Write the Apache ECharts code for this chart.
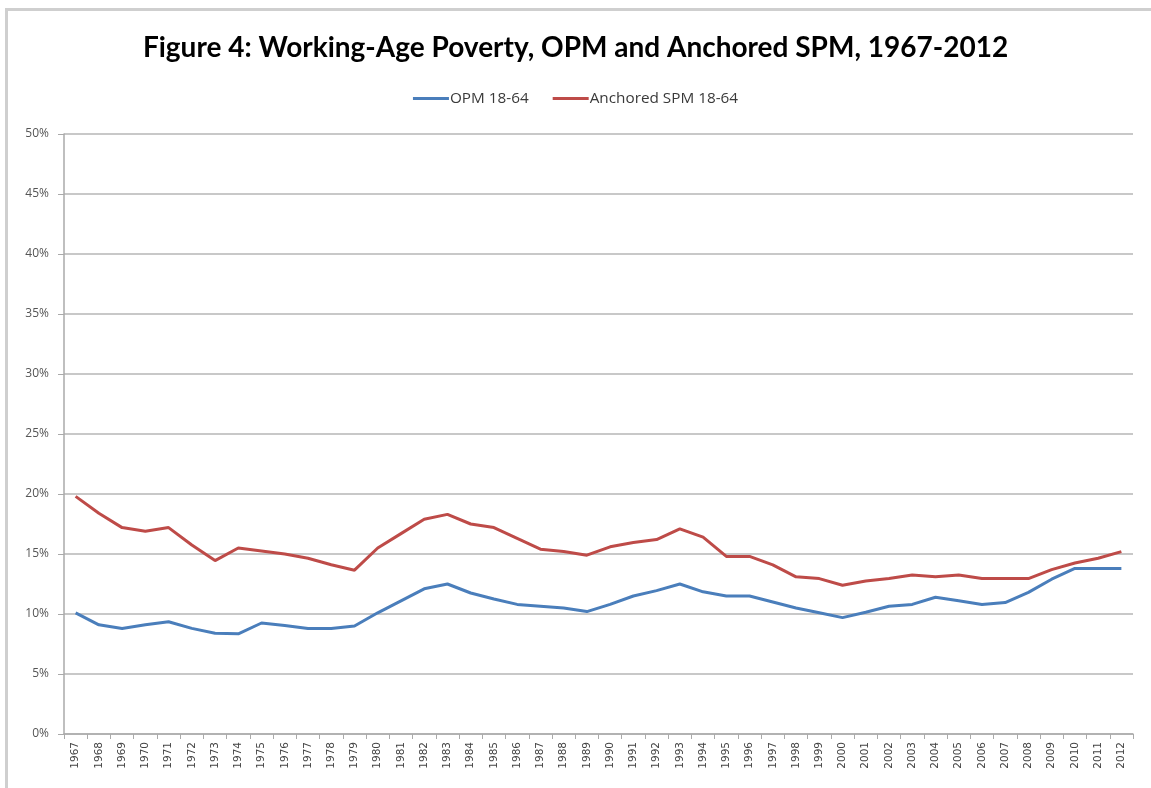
<!DOCTYPE html>
<html>
<head>
<meta charset="utf-8">
<script src="https://cdn.jsdelivr.net/npm/echarts@6/dist/echarts.min.js"></script>
<style>
html,body{margin:0;padding:0;background:#fff;}
#chart{width:1151px;height:788px;}
</style>
</head>
<body>
<div id="chart"></div>
<script>
var years = ["1967","1968","1969","1970","1971","1972","1973","1974","1975","1976","1977","1978","1979","1980","1981","1982","1983","1984","1985","1986","1987","1988","1989","1990","1991","1992","1993","1994","1995","1996","1997","1998","1999","2000","2001","2002","2003","2004","2005","2006","2007","2008","2009","2010","2011","2012"];
var opm = [10.1,9.1,8.8,9.1,9.35,8.8,8.4,8.35,9.25,9.05,8.8,8.8,9.0,10.1,11.1,12.1,12.5,11.75,11.25,10.8,10.65,10.5,10.2,10.8,11.5,11.95,12.5,11.85,11.5,11.5,11.0,10.5,10.1,9.7,10.15,10.65,10.8,11.4,11.1,10.8,10.95,11.8,12.9,13.8,13.8,13.8];
var spm = [19.8,18.4,17.2,16.9,17.2,15.75,14.45,15.5,15.25,15.0,14.65,14.1,13.65,15.5,16.7,17.9,18.3,17.5,17.2,16.3,15.4,15.2,14.9,15.6,15.95,16.2,17.1,16.4,14.8,14.8,14.1,13.1,12.95,12.4,12.75,12.95,13.25,13.1,13.25,12.95,12.95,12.95,13.7,14.25,14.65,15.2];
var seriesNames = ["OPM 18-64", "Anchored SPM 18-64"];
var titleText = "Figure 4: Working-Age Poverty, OPM and Anchored SPM, 1967-2012";

var chart = echarts.init(document.getElementById('chart'), null, {renderer:'canvas'});
chart.setOption({
  backgroundColor: '#fff',
  animation: false,
  graphic: [{
    type: 'rect', left: 4, top: 7, shape: {width: 1146, height: 800},
    style: {fill: 'none', stroke: '#cfcfcf', lineWidth: 3}, silent: true
  }],
  title: {
    text: titleText, left: 'center', top: 29,
    textStyle: {fontFamily: 'Lato', fontWeight: 'bold', fontSize: 28, color: '#000'}
  },
  legend: {
    top: 86, left: 'center', itemWidth: 36, itemHeight: 3, itemGap: 24,
    icon: 'rect',
    textStyle: {fontFamily: 'Open Sans', fontSize: 15.3, color: '#3a3a3a', padding: [0, 0, 0, -4]},
    data: seriesNames
  },
  grid: {left: 64, right: 18, top: 134, bottom: 54, containLabel: false},
  xAxis: {
    type: 'category', data: years, boundaryGap: true,
    axisLine: {lineStyle: {color: '#aaa', width: 1.5}},
    axisTick: {show: true, alignWithLabel: false, length: 5, lineStyle: {color: '#aaa'}},
    axisLabel: {rotate: 90, interval: 0, fontFamily: 'DejaVu Sans', fontSize: 10.5, color: '#444', margin: 8}
  },
  yAxis: {
    type: 'value', min: 0, max: 50, interval: 5,
    axisLine: {show: true, lineStyle: {color: '#aaa', width: 1.5}},
    axisTick: {show: true, length: 6, lineStyle: {color: '#aaa'}},
    axisLabel: {formatter: '{value}%', fontFamily: 'Open Sans', fontSize: 12, color: '#555', margin: 15},
    splitLine: {lineStyle: {color: '#c8c8c8', width: 2}}
  },
  series: [
    {name: seriesNames[0], type: 'line', data: opm, showSymbol: false, symbol: 'none',
     lineStyle: {color: '#4a7ebb', width: 3}, itemStyle: {color: '#4a7ebb'}},
    {name: seriesNames[1], type: 'line', data: spm, showSymbol: false, symbol: 'none',
     lineStyle: {color: '#be4b48', width: 3}, itemStyle: {color: '#be4b48'}}
  ]
});
</script>
</body>
</html>
